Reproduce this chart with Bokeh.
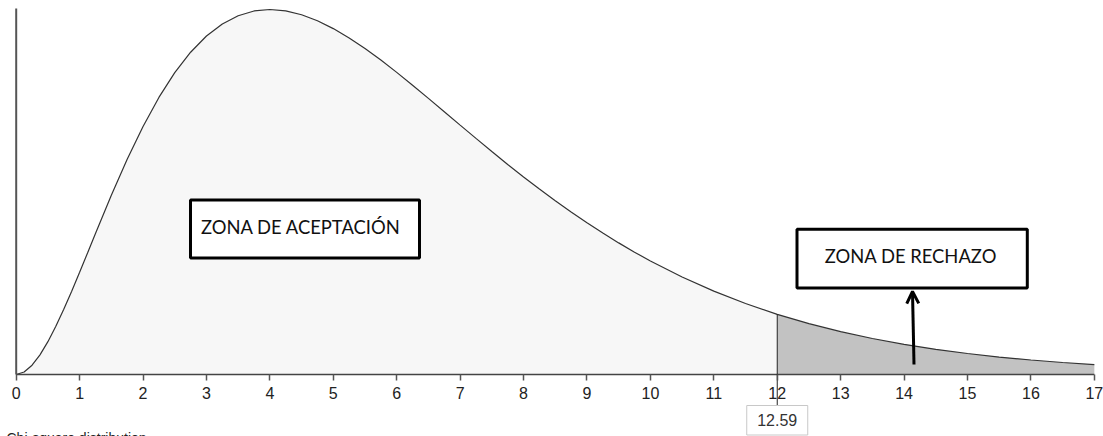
from bokeh.plotting import figure
from bokeh.models import Range1d, FixedTicker, Arrow, OpenHead
from bokeh.core.properties import value
from bokeh.embed import file_html
from bokeh.resources import INLINE

# ---- data ----
chi_x = [0, 0.125, 0.25, 0.375, 0.5, 0.625, 0.75, 0.875, 1, 1.125, 1.25, 1.5, 1.75, 2, 2.25,
         2.5, 2.75, 3, 3.25, 3.5, 3.75,
         4, 4.25, 4.5, 4.75, 5, 5.25, 5.5, 5.75, 6, 6.25, 6.5, 6.75, 7, 7.25, 7.5, 7.75,
         8, 8.25, 8.5, 8.75, 9, 9.25, 9.5, 9.75, 10, 10.5, 11, 11.5, 12, 12.5, 13, 13.5,
         14, 14.5, 15, 15.5, 16, 16.5, 17]
chi_y = [0.0, 0.00092, 0.00345, 0.00729, 0.01217, 0.01786, 0.02416, 0.03089, 0.03791, 0.04507,
         0.05228, 0.06643, 0.07980, 0.09197,
         0.10273, 0.11191, 0.11950, 0.12551, 0.12999, 0.13304, 0.13480, 0.13534, 0.13483,
         0.13340, 0.13116, 0.12826, 0.12479, 0.12086, 0.11659, 0.11202, 0.10727, 0.10238,
         0.09745, 0.09248, 0.08755, 0.08268, 0.07789, 0.07326, 0.06876, 0.06441, 0.06024,
         0.05624, 0.05243, 0.04880, 0.04536, 0.04211, 0.03616, 0.03091, 0.02631, 0.02231,
         0.01885, 0.01588, 0.01334, 0.01117, 0.00933, 0.00778, 0.00647, 0.00537, 0.00445,
         0.00368]
ticks = list(range(0, 18))
tick_labels = [str(t) for t in ticks]
crit_x = 12          # where the rejection region starts on the drawing
crit_label = "12.59"
zone_accept = "ZONA DE ACEPTACIÓN"
zone_reject = "ZONA DE RECHAZO"
caption = "Chi-square distribution"

# ---- layout (page pixels -> data) ----
W, H = 1103, 436
ORG = 0                          # page offset of the canvas
PX0, PXU = 15.7, 63.42           # page x of x=0, px per unit
PY0, PYU = 374.0, 365.0 / 0.13534  # page y of y=0, px per unit

def X(px):
    return (px - PX0) / PXU

def Y(py):
    return (PY0 - py) / PYU

x_start, x_end = X(ORG), X(ORG + W)
y_end, y_start = Y(ORG), Y(ORG + H)
y_axis_top = Y(8)

p = figure(width=W, height=H, x_range=Range1d(x_start, x_end), y_range=Range1d(y_start, y_end),
           output_backend="svg", toolbar_location=None, y_axis_location=None,
           min_border=0, outline_line_color=None, background_fill_color="white")
p.grid.visible = False

ax = p.xaxis[0]
ax.fixed_location = 0
ax.ticker = FixedTicker(ticks=ticks)
ax.major_label_overrides = {t: l for t, l in zip(ticks, tick_labels)}
ax.axis_line_color = None
ax.major_tick_line_color = "#555555"
ax.major_tick_line_width = 1.5
ax.major_tick_out = 6
ax.major_tick_in = 0
ax.minor_tick_line_color = None
ax.major_label_text_font = "Liberation Sans"
ax.major_label_text_font_size = "16px"
ax.major_label_text_color = "#222222"
ax.major_label_standoff = 6

acc_x = [x for x in chi_x if x <= crit_x]
acc_y = [y for x, y in zip(chi_x, chi_y) if x <= crit_x]
rej_x = [x for x in chi_x if x >= crit_x]
rej_y = [y for x, y in zip(chi_x, chi_y) if x >= crit_x]
crit_y = chi_y[chi_x.index(crit_x)]

p.varea(x=acc_x, y1=0, y2=acc_y, fill_color="#f7f7f7")
p.varea(x=rej_x, y1=0, y2=rej_y, fill_color="#c2c2c2")
p.line(chi_x, chi_y, line_color="#333333", line_width=1.2)

# axis lines
p.segment(x0=[0], y0=[0], x1=[ticks[-1]], y1=[0], line_color="#444444", line_width=1.5)
p.segment(x0=[0], y0=[0], x1=[0], y1=[y_axis_top], line_color="#555555", line_width=2)

# boundary line and its label box
p.segment(x0=[crit_x], y0=[Y(405)], x1=[crit_x], y1=[crit_y], line_color="#222222", line_width=1)
p.quad(left=[crit_x - 30.5 / PXU], right=[crit_x + 30.5 / PXU], top=[Y(405)], bottom=[Y(434.5)],
       fill_color="white", line_color="#c8c8c8", line_width=1)
p.text(x=[crit_x], y=[Y(419.5)], text=[crit_label], text_align="center", text_baseline="middle",
       text_font=value("Liberation Sans"), text_font_size="16px", text_color="#333333")

# zone boxes
p.quad(left=[X(190)], right=[X(419)], top=[Y(199.5)], bottom=[Y(257.5)],
       fill_color="white", line_color="black", line_width=3)
p.text(x=[X(300.5)], y=[Y(226)], text=[zone_accept], text_align="center", text_baseline="alphabetic",
       text_font=value("Lato"), text_font_size="18.4px", text_color="#111111")

p.quad(left=[X(796.5)], right=[X(1026.8)], top=[Y(228.8)], bottom=[Y(287.5)],
       fill_color="white", line_color="black", line_width=3)
p.text(x=[X(910.4)], y=[Y(255)], text=[zone_reject], text_align="center", text_baseline="alphabetic",
       text_font=value("Lato"), text_font_size="18.4px", text_color="#111111")

p.add_layout(Arrow(end=OpenHead(size=12, line_width=3, line_color="black"),
                   x_start=X(913.5), y_start=Y(364), x_end=X(912), y_end=Y(291),
                   line_width=3, line_color="black"))

p.text(x=[X(6)], y=[Y(429.5)], text=[caption], text_align="left", text_baseline="top",
       text_font=value("Liberation Sans"), text_font_size="14px", text_color="#222222")

open("out.html", "w").write(file_html(p, INLINE))
